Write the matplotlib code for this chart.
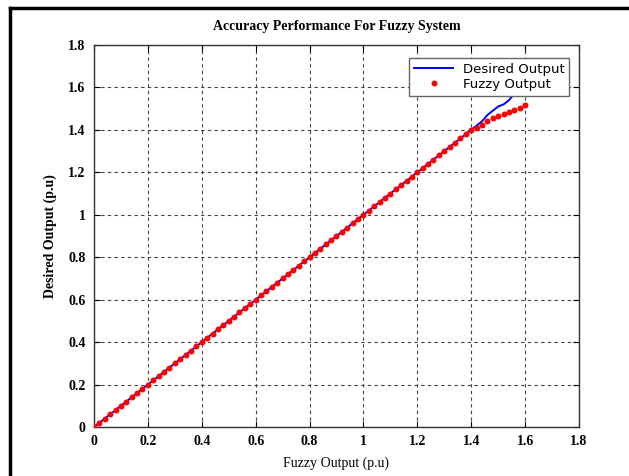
import matplotlib
matplotlib.use("Agg")
import matplotlib.pyplot as plt
from matplotlib.lines import Line2D

fuzzy_x = [0.00, 0.02, 0.04, 0.06, 0.08, 0.10, 0.12, 0.14, 0.16, 0.18,
           0.20, 0.22, 0.24, 0.26, 0.28, 0.30, 0.32, 0.34, 0.36, 0.38,
           0.40, 0.42, 0.44, 0.46, 0.48, 0.50, 0.52, 0.54, 0.56, 0.58,
           0.60, 0.62, 0.64, 0.66, 0.68, 0.70, 0.72, 0.74, 0.76, 0.78,
           0.80, 0.82, 0.84, 0.86, 0.88, 0.90, 0.92, 0.94, 0.96, 0.98,
           1.00, 1.02, 1.04, 1.06, 1.08, 1.10, 1.12, 1.14, 1.16, 1.18,
           1.20, 1.22, 1.24, 1.26, 1.28, 1.30, 1.32, 1.34, 1.36, 1.38,
           1.40, 1.42, 1.44, 1.46, 1.48, 1.50, 1.52, 1.54, 1.56, 1.58,
           1.60]

desired_y = [0.00, 0.02, 0.04, 0.06, 0.08, 0.10, 0.12, 0.14, 0.16, 0.18,
             0.20, 0.22, 0.24, 0.26, 0.28, 0.30, 0.32, 0.34, 0.36, 0.38,
             0.40, 0.42, 0.44, 0.46, 0.48, 0.50, 0.52, 0.54, 0.56, 0.58,
             0.60, 0.62, 0.64, 0.66, 0.68, 0.70, 0.72, 0.74, 0.76, 0.78,
             0.80, 0.82, 0.84, 0.86, 0.88, 0.90, 0.92, 0.94, 0.96, 0.98,
             1.00, 1.02, 1.04, 1.06, 1.08, 1.10, 1.12, 1.14, 1.16, 1.18,
             1.20, 1.22, 1.24, 1.26, 1.28, 1.30, 1.32, 1.34, 1.36, 1.38,
             1.40, 1.42, 1.44, 1.47, 1.49, 1.51, 1.52, 1.54, 1.57, 1.59,
             1.62]

fuzzy_y = [0.00, 0.02, 0.04, 0.06, 0.08, 0.10, 0.12, 0.14, 0.16, 0.18,
           0.20, 0.22, 0.24, 0.26, 0.28, 0.30, 0.32, 0.34, 0.36, 0.38,
           0.40, 0.42, 0.44, 0.46, 0.48, 0.50, 0.52, 0.54, 0.56, 0.58,
           0.60, 0.62, 0.64, 0.66, 0.68, 0.70, 0.72, 0.74, 0.76, 0.78,
           0.80, 0.82, 0.84, 0.86, 0.88, 0.90, 0.92, 0.94, 0.96, 0.98,
           1.00, 1.02, 1.04, 1.06, 1.08, 1.10, 1.12, 1.14, 1.16, 1.18,
           1.20, 1.22, 1.24, 1.26, 1.28, 1.30, 1.32, 1.34, 1.36, 1.38,
           1.40, 1.41, 1.425, 1.44, 1.455, 1.465, 1.475, 1.485, 1.495, 1.505,
           1.515]

x_ticks = [0, 0.2, 0.4, 0.6, 0.8, 1.0, 1.2, 1.4, 1.6, 1.8]
x_tick_labels = ["0", "0.2", "0.4", "0.6", "0.8", "1", "1.2", "1.4", "1.6", "1.8"]
y_ticks = [0, 0.2, 0.4, 0.6, 0.8, 1.0, 1.2, 1.4, 1.6, 1.8]
y_tick_labels = ["0", "0.2", "0.4", "0.6", "0.8", "1", "1.2", "1.4", "1.6", "1.8"]

title = "Accuracy Performance For Fuzzy System"
xlabel = "Fuzzy Output (p.u)"
ylabel = "Desired Output (p.u)"

serif = ["Liberation Serif", "DejaVu Serif"]

fig = plt.figure(figsize=(6.29, 4.76), dpi=100)
ax = fig.add_axes([0.1494, 0.1029, 0.7711, 0.8026])

ax.plot(fuzzy_x, desired_y, color="#0000ff", lw=1.4, label="Desired Output", zorder=3)
ax.plot(fuzzy_x, fuzzy_y, linestyle="none", marker="o", markersize=4.3,
        color="#ff0000", markeredgewidth=0, label="Fuzzy Output", zorder=4)

ax.set_xlim(0, 1.8)
ax.set_ylim(0, 1.8)
ax.set_xticks(x_ticks)
ax.set_xticklabels(x_tick_labels, fontfamily=serif, fontsize=10, fontweight="bold")
ax.set_yticks(y_ticks)
ax.set_yticklabels(y_tick_labels, fontfamily=serif, fontsize=10, fontweight="bold")
ax.tick_params(direction="in", length=4, width=0.8, top=True, right=True, pad=6)

ax.grid(True, color="#444444", linestyle=(0, (3, 3)), linewidth=0.8)
ax.set_axisbelow(True)
for s in ax.spines.values():
    s.set_linewidth(1.0)
    s.set_color("#333333")

ax.set_title(title, fontfamily=serif, fontsize=10, fontweight="bold", pad=11)
ax.set_xlabel(xlabel, fontfamily=serif, fontsize=10, labelpad=6)
ax.set_ylabel(ylabel, fontfamily=serif, fontsize=10, fontweight="bold", labelpad=8)

leg = ax.legend(loc="upper right", bbox_to_anchor=(0.993, 0.982), fancybox=False,
                framealpha=1, edgecolor="#666666", borderpad=0.35,
                labelspacing=0.15, handlelength=3.0, handletextpad=0.7,
                markerscale=1.0, prop={"family": "DejaVu Sans", "size": 9.5})
leg.get_frame().set_linewidth(1.0)

# figure border (top and left)
fig.add_artist(Line2D([10/629, 1.0], [1 - 8/476, 1 - 8/476], color="black", lw=2.5,
                      transform=fig.transFigure))
fig.add_artist(Line2D([10/629, 10/629], [0.0, 1 - 8/476], color="black", lw=2.5,
                      transform=fig.transFigure))

fig.savefig("out.png", dpi=100)
